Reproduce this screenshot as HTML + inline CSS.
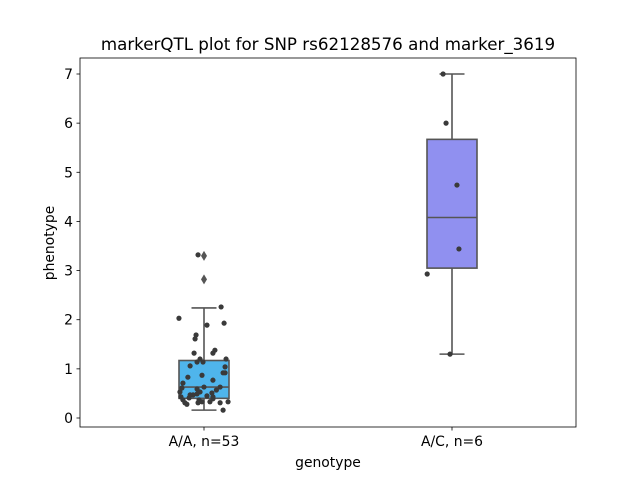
<!DOCTYPE html>
<html><head><meta charset="utf-8"><style>
body{margin:0;background:#fff;font-family:"Liberation Sans","DejaVu Sans",sans-serif;}
svg text{font-family:"DejaVu Sans","Liberation Sans",sans-serif;}
</style></head><body>
<svg id="chart" width="640" height="480" xmlns="http://www.w3.org/2000/svg"></svg>
<script>
const categories = ["A/A, n=53", "A/C, n=6"];
const boxColors = ["#4fb5ec", "#9090f0"];
const q1 = [0.40, 3.05];
const medians = [0.63, 4.08];
const q3 = [1.17, 5.67];
const whiskLo = [0.16, 1.30];
const whiskHi = [2.24, 7.0];
const outliers = [[3.30, 2.82], []];
const pointsAA = [3.32,2.26,2.03,1.93,1.89,1.69,1.61,1.32,1.38,1.32,1.2,1.14,1.14,1.2,1.06,1.04,0.92,0.92,0.87,0.83,0.77,0.71,0.61,0.63,0.63,0.53,0.59,0.53,0.51,0.47,0.47,0.43,0.45,0.49,0.43,0.37,0.37,0.39,0.31,0.31,0.33,0.33,0.31,0.33,0.28,0.16,0.57,0.41];
const jitterAA = [-0.024,0.069,-0.101,0.081,0.012,-0.032,-0.036,-0.04,0.044,0.036,-0.016,-0.028,-0.004,0.089,-0.056,0.085,0.077,0.085,-0.008,-0.065,0.036,-0.085,-0.089,0,0.065,-0.097,-0.028,-0.016,0.032,-0.044,-0.056,-0.093,0.012,-0.028,0.036,-0.085,-0.02,0.036,-0.077,-0.024,-0.008,0.024,0.065,0.097,-0.069,0.077,0.05,-0.06];
const pointsAC = [7.0, 6.0, 4.74, 3.44, 2.93, 1.30];
const jitterAC = [-0.036, -0.024, 0.02, 0.028, -0.1, -0.008];
const yTicks = [0,1,2,3,4,5,6,7];

const svg = document.getElementById('chart');
const NS = "http://www.w3.org/2000/svg";
const L=80,R=576,T=58,B=427;
const y = v => 418 - v*(418-74)/7;
const x = i => 204 + i*248;
function mk(tag, attrs, parent){const e=document.createElementNS(NS,tag);for(const k in attrs)e.setAttribute(k,attrs[k]);(parent||svg).appendChild(e);return e;}
function txt(s, attrs){const e=mk('text',attrs);e.textContent=s;return e;}

const bg=mk('rect',{x:L,y:T,width:R-L,height:B-T,fill:'#fff'});



categories.forEach((c,i)=>{
  const cx=x(i), g=mk('g',{});
  
  
  const st={stroke:'#555',"stroke-width":1.6,fill:'none'};
  mk('line',Object.assign({x1:cx,x2:cx,y1:y(q1[i]),y2:y(whiskLo[i])},st),g);
  mk('line',Object.assign({x1:cx,x2:cx,y1:y(q3[i]),y2:y(whiskHi[i])},st),g);
  mk('line',Object.assign({x1:cx-12.5,x2:cx+12.5,y1:y(whiskLo[i]),y2:y(whiskLo[i])},st),g);
  mk('line',Object.assign({x1:cx-12.5,x2:cx+12.5,y1:y(whiskHi[i]),y2:y(whiskHi[i])},st),g);
  mk('rect',{x:cx-25,y:y(q3[i]),width:50,height:y(q1[i])-y(q3[i]),fill:boxColors[i],stroke:'#555','stroke-width':1.6},g);
  mk('line',Object.assign({x1:cx-25,x2:cx+25,y1:y(medians[i]),y2:y(medians[i])},st),g);
  outliers[i].forEach(v=>{
    const d=mk('path',{d:`M${cx} ${y(v)-5}L${cx+3} ${y(v)}L${cx} ${y(v)+5}L${cx-3} ${y(v)}Z`,fill:'#555'},g);
    
    
  });
});
function pts(vals,jit,i){vals.forEach((v,k)=>{
  const p=mk('circle',{cx:x(i)+jit[k]*248,cy:y(v),r:2.6,fill:'#3a3a3a'});
  
  
});}
pts(pointsAA,jitterAA,0);
pts(pointsAC,jitterAC,1);

const frame=mk('rect',{x:L,y:T,width:R-L,height:B-T,fill:'none',stroke:'#000','stroke-width':0.8});



yTicks.forEach(t=>{
  mk('line',{x1:L-3.5,x2:L,y1:y(t),y2:y(t),stroke:'#000','stroke-width':0.8});
  const e=txt(String(t),{x:L-7,y:y(t)+5,'font-size':13.9,'text-anchor':'end'});
  
  
});
categories.forEach((c,i)=>{
  mk('line',{x1:x(i),x2:x(i),y1:B,y2:B+3.5,stroke:'#000','stroke-width':0.8});
  const e=txt(c,{x:x(i),y:B+19,'font-size':13.9,'text-anchor':'middle'});
  
  
});
const xt=txt('genotype',{x:328,y:467,'font-size':13.9,'text-anchor':'middle'});


const yt=txt('phenotype',{x:54,y:243,'font-size':13.9,'text-anchor':'middle',transform:'rotate(-90 54 243)'});


const tt=txt('markerQTL plot for SNP rs62128576 and marker_3619',{x:328,y:50,'font-size':16.7,'text-anchor':'middle'});


</script>
</body></html>
